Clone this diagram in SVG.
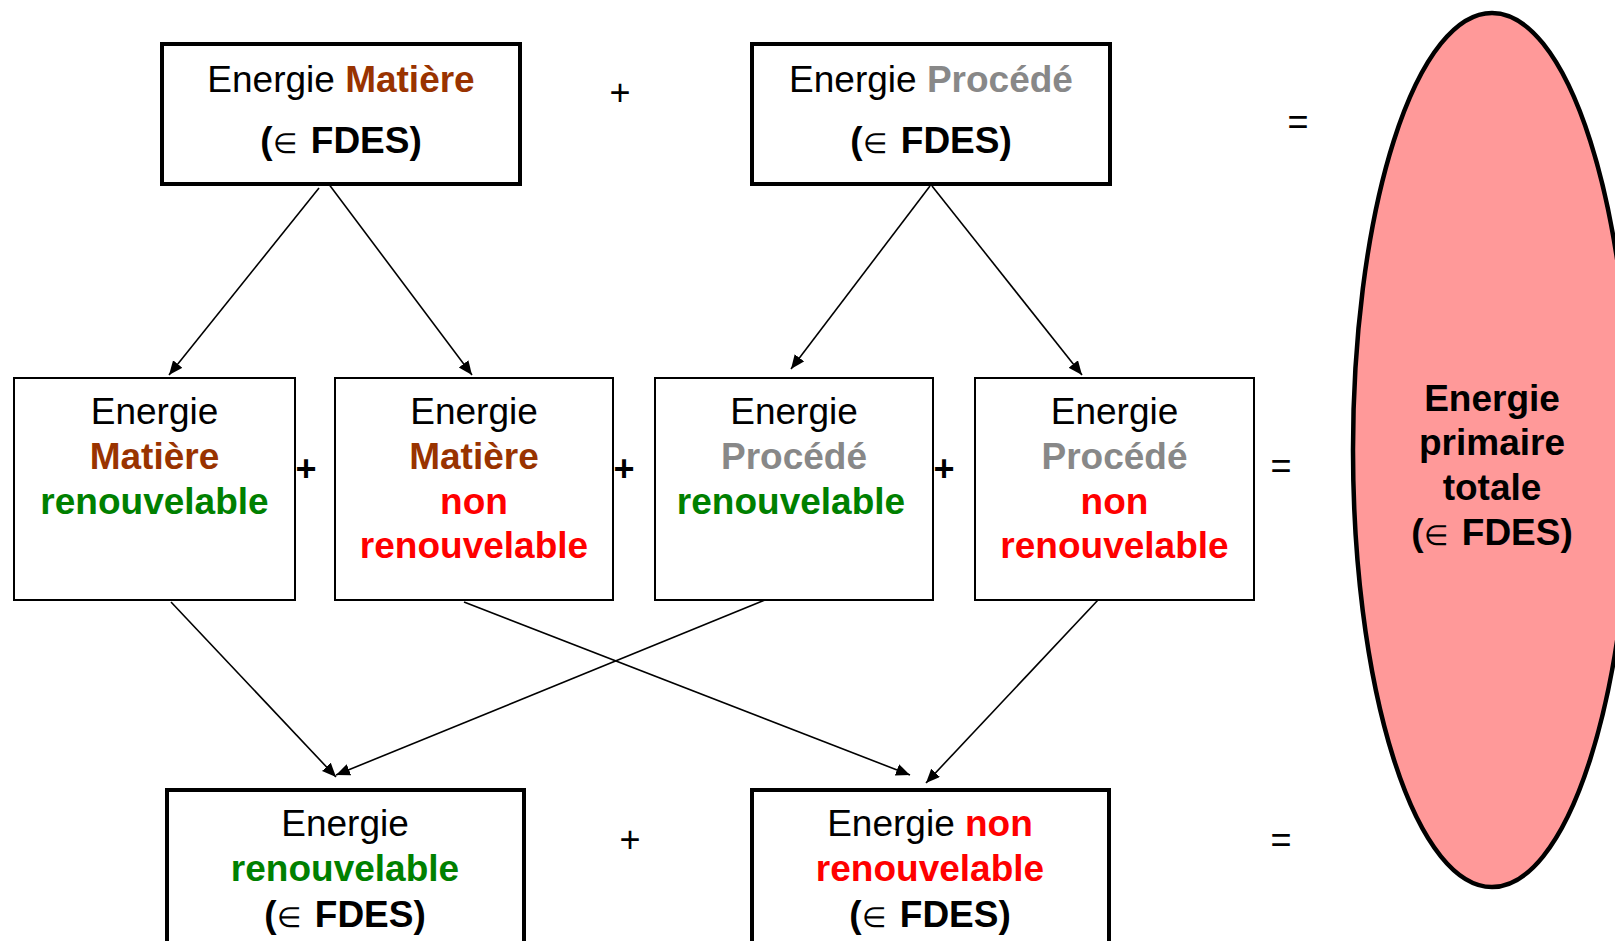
<svg xmlns="http://www.w3.org/2000/svg" width="1615" height="941" viewBox="0 0 1615 941">
<style>
text{font-family:"Liberation Sans",Arial,sans-serif;font-size:37px;text-anchor:middle;fill:#000}
.b{font-weight:bold}
.el{font-weight:normal;font-size:28px}
.mat{fill:#993300;font-weight:bold}
.pro{fill:#888888;font-weight:bold}
.ren{fill:#008000;font-weight:bold}
.non{fill:#ff0000;font-weight:bold}
.thick{fill:#fff;stroke:#000;stroke-width:4}
.thin{fill:#fff;stroke:#000;stroke-width:2}
.op{font-size:36px}
.conn line{stroke:#000;stroke-width:1.6;marker-end:url(#ah)}
</style>
<defs>
<marker id="ah" markerUnits="userSpaceOnUse" markerWidth="16" markerHeight="14" refX="14" refY="6" orient="auto">
<path d="M0,0 L14,6 L0,12 Z" fill="#000"/>
</marker>
</defs>
<rect width="1615" height="941" fill="#fff"/>

<g id="matiere">
<rect class="thick" x="162" y="44" width="358" height="140"/>
<text x="341" y="92">Energie <tspan class="mat">Matière</tspan></text>
<text x="341" y="153" class="b">(<tspan class="el">∈</tspan><tspan dx="4"> FDES)</tspan></text>
</g>

<g id="procede">
<rect class="thick" x="752" y="44" width="358" height="140"/>
<text x="931" y="92">Energie <tspan class="pro">Procédé</tspan></text>
<text x="931" y="153" class="b">(<tspan class="el">∈</tspan><tspan dx="4"> FDES)</tspan></text>
</g>

<g id="mat-ren">
<rect class="thin" x="14" y="378" width="281" height="222"/>
<text x="154.5" y="424">Energie</text>
<text x="154.5" y="469" class="mat">Matière</text>
<text x="154.5" y="514" class="ren">renouvelable</text>
</g>

<g id="mat-nonren">
<rect class="thin" x="335" y="378" width="278" height="222"/>
<text x="474" y="424">Energie</text>
<text x="474" y="469" class="mat">Matière</text>
<text x="474" y="514" class="non">non</text>
<text x="474" y="558" class="non">renouvelable</text>
</g>

<g id="pro-ren">
<rect class="thin" x="655" y="378" width="278" height="222"/>
<text x="794" y="424">Energie</text>
<text x="794" y="469" class="pro">Procédé</text>
<text x="791" y="514" class="ren">renouvelable</text>
</g>

<g id="pro-nonren">
<rect class="thin" x="975" y="378" width="279" height="222"/>
<text x="1114.5" y="424">Energie</text>
<text x="1114.5" y="469" class="pro">Procédé</text>
<text x="1114.5" y="514" class="non">non</text>
<text x="1114.5" y="558" class="non">renouvelable</text>
</g>

<g id="ren-total">
<rect class="thick" x="167" y="790" width="357" height="160"/>
<text x="345" y="836">Energie</text>
<text x="345" y="881" class="ren">renouvelable</text>
<text x="345" y="927" class="b">(<tspan class="el">∈</tspan><tspan dx="4"> FDES)</tspan></text>
</g>

<g id="nonren-total">
<rect class="thick" x="752" y="790" width="357" height="160"/>
<text x="930" y="836">Energie <tspan class="non">non</tspan></text>
<text x="930" y="881" class="non">renouvelable</text>
<text x="930" y="927" class="b">(<tspan class="el">∈</tspan><tspan dx="4"> FDES)</tspan></text>
</g>

<g id="primaire">
<ellipse cx="1492" cy="450" rx="139" ry="437" fill="#ff9999" stroke="#000" stroke-width="4.5"/>
<text x="1492" y="411" class="b">Energie</text>
<text x="1492" y="455" class="b">primaire</text>
<text x="1492" y="500" class="b">totale</text>
<text x="1492" y="545" class="b">(<tspan class="el">∈</tspan><tspan dx="4"> FDES)</tspan></text>
</g>

<g id="operators">
<text x="620" y="105" class="op">+</text>
<text x="1298" y="134" class="op">=</text>
<text x="306" y="481" class="op b">+</text>
<text x="624" y="481" class="op b">+</text>
<text x="944" y="481" class="op b">+</text>
<text x="1281" y="478" class="op">=</text>
<text x="630" y="852" class="op">+</text>
<text x="1281" y="852" class="op">=</text>
</g>

<g class="conn" id="connectors">
<line x1="319" y1="188" x2="169" y2="375"/>
<line x1="328" y1="183" x2="472" y2="375"/>
<line x1="930" y1="186" x2="791" y2="369"/>
<line x1="932" y1="186" x2="1082" y2="375"/>
<line x1="171" y1="602" x2="336" y2="777"/>
<line x1="765" y1="600" x2="336" y2="775"/>
<line x1="464" y1="602" x2="910" y2="775"/>
<line x1="1098" y1="600" x2="926" y2="783"/>
</g>
</svg>
